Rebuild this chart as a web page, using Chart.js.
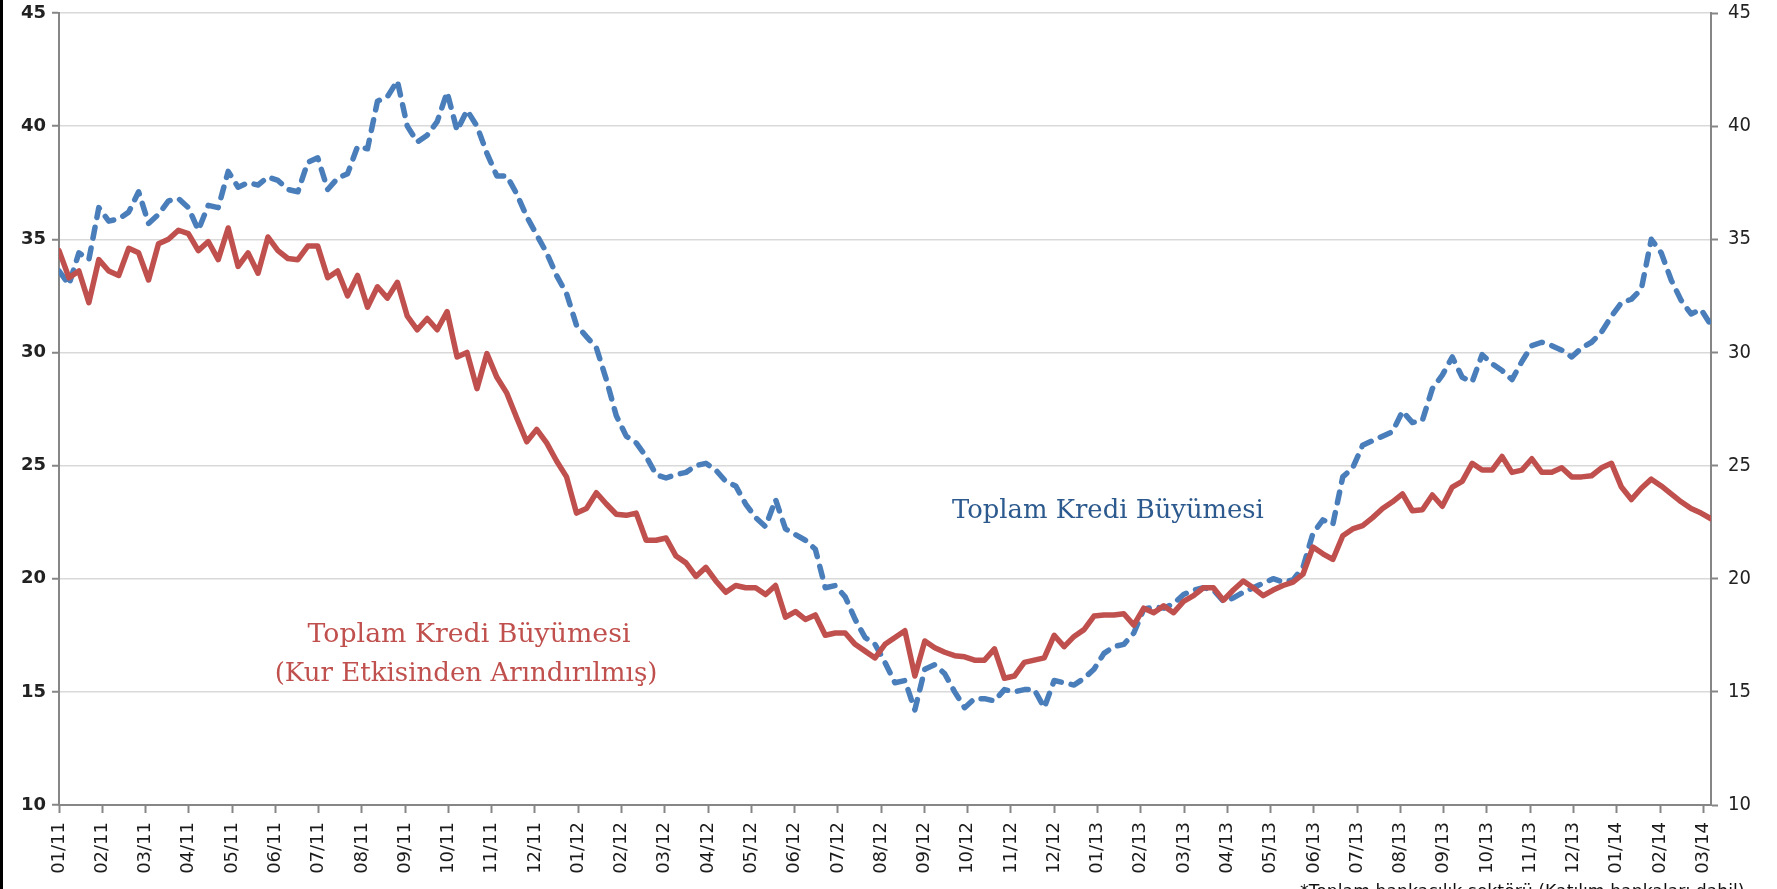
<!DOCTYPE html>
<html lang="tr">
<head>
  <meta charset="UTF-8" />
  <title>Toplam Kredi Büyümesi</title>
  <script src="https://cdn.jsdelivr.net/npm/chart.js"></script>
  <style>
    html, body {
      margin: 0;
      padding: 0;
      background: #fff;
    }

    #wrap {
      position: relative;
      width: 1777px;
      height: 889px;
    }
  </style>
</head>
<body>
  <div id="wrap"><canvas id="kredi"></canvas></div>

  <script>
    // month labels on the x axis (first week of 01/11 .. 03/14)
    const monthLabels = [
      '01/11', '02/11', '03/11', '04/11', '05/11', '06/11', '07/11', '08/11', '09/11', '10/11', '11/11', '12/11',
      '01/12', '02/12', '03/12', '04/12', '05/12', '06/12', '07/12', '08/12', '09/12', '10/12', '11/12', '12/12',
      '01/13', '02/13', '03/13', '04/13', '05/13', '06/13', '07/13', '08/13', '09/13', '10/13', '11/13', '12/13',
      '01/14', '02/14', '03/14'
    ];

    const yTicks = [10, 15, 20, 25, 30, 35, 40, 45];

    // weekly values, % annual growth
    // Toplam Kredi Büyümesi (blue dashed)
    const toplamKredi = [
      33.6, 33.0, 34.4, 34.1, 36.4, 35.8, 35.9, 36.2, 37.1, 35.7, 36.1, 36.7, 36.8, 36.4, 35.4, 36.5,
      36.4, 38.0, 37.3, 37.5, 37.4, 37.75, 37.6, 37.2, 37.1, 38.4, 38.6, 37.2, 37.7, 37.9, 39.1, 39.0,
      41.1, 41.3, 42.0, 40.0, 39.3, 39.6, 40.2, 41.5, 39.8, 40.7, 40.0,
      38.8, 37.8, 37.8, 37.0, 36.0, 35.2, 34.4, 33.4, 32.6, 31.2, 30.7, 30.2, 28.8, 27.2, 26.3, 26.0,
      25.4, 24.6, 24.45, 24.6, 24.7, 25.0, 25.1, 24.8, 24.3, 24.1, 23.3, 22.7, 22.3, 23.5, 22.2, 21.95,
      21.7, 21.3, 19.6, 19.7, 19.2, 18.2, 17.4, 17.1, 16.3, 15.4,
      15.5, 14.2, 16.0, 16.2, 15.8, 15.0, 14.3, 14.7, 14.7, 14.6, 15.1, 15.0, 15.1, 15.1, 14.3, 15.5,
      15.4, 15.3, 15.6, 16.0, 16.7, 17.0, 17.1, 17.6, 18.65, 18.75, 18.7, 18.9, 19.3, 19.5, 19.6, 19.5,
      19.0, 19.15, 19.4, 19.6, 19.8, 20.0, 19.85, 19.95,
      20.5, 22.0, 22.6, 22.4, 24.5, 24.9, 25.9, 26.1, 26.3, 26.5, 27.4, 26.9, 27.0, 28.4, 29.0, 29.8,
      28.9, 28.7, 29.9, 29.5, 29.2, 28.8, 29.6, 30.3, 30.45, 30.3, 30.1, 29.8, 30.2, 30.45, 30.9, 31.6,
      32.2, 32.35, 32.8, 35.0, 34.4, 33.2, 32.3, 31.7, 31.9, 31.2
    ];

    // Toplam Kredi Büyümesi (Kur Etkisinden Arındırılmış) (red solid)
    const kurArindirilmis = [
      34.5, 33.3, 33.6, 32.2, 34.1, 33.6, 33.4, 34.6, 34.4, 33.2, 34.8, 35.0, 35.4, 35.25, 34.5, 34.9,
      34.1, 35.5, 33.8, 34.4, 33.5, 35.1, 34.5, 34.15, 34.1, 34.7, 34.7, 33.3, 33.6, 32.5, 33.4, 32.0,
      32.9, 32.4, 33.1, 31.6, 31.0, 31.5, 31.0, 31.8, 29.8, 30.0, 28.4,
      29.95, 28.9, 28.2, 27.1, 26.05, 26.6, 26.0, 25.2, 24.5, 22.9, 23.1, 23.8, 23.3, 22.85, 22.8, 22.9,
      21.7, 21.7, 21.8, 21.0, 20.7, 20.1, 20.5, 19.9, 19.4, 19.7, 19.6, 19.6, 19.3, 19.7, 18.3, 18.55,
      18.2, 18.4, 17.5, 17.6, 17.6, 17.1, 16.8, 16.5, 17.1, 17.4,
      17.7, 15.7, 17.25, 16.95, 16.75, 16.6, 16.55, 16.4, 16.4, 16.9, 15.6, 15.7, 16.3, 16.4, 16.5, 17.5,
      17.0, 17.45, 17.75, 18.35, 18.4, 18.4, 18.45, 17.95, 18.7, 18.5, 18.8, 18.5, 19.0, 19.25, 19.6, 19.6,
      19.05, 19.5, 19.9, 19.6, 19.25, 19.5, 19.7, 19.85,
      20.2, 21.4, 21.1, 20.85, 21.9, 22.2, 22.35, 22.7, 23.1, 23.4, 23.75, 23.0, 23.05, 23.7, 23.2, 24.05,
      24.3, 25.1, 24.8, 24.8, 25.4, 24.7, 24.8, 25.3, 24.7, 24.7, 24.9, 24.5, 24.5, 24.55, 24.9, 25.1,
      24.05, 23.5, 24.0, 24.4, 24.1, 23.75, 23.4, 23.1, 22.9, 22.65
    ];

    const WEEKS_PER_MONTH = 365.25 / 7 / 12;
    const toXY = arr => arr.map((v, i) => ({ x: i, y: v }));

    const AXIS = '#868686';

    // y scales: fixed width, no extra top/bottom padding for labels
    const fixY = w => s => {
      s.width = w;
      s.paddingTop = 0;
      s.paddingBottom = 0;
    };

    // text on the plot + left frame line + cut footnote
    const etiketler = {
      id: 'etiketler',
      afterDraw(chart) {
        const { ctx } = chart;
        const x = chart.scales.x;
        const y = chart.scales.y;

        function fitText(text, family, cx, baseY, targetW, color, align) {
          ctx.font = '28px ' + family;
          const w = ctx.measureText(text).width;
          const size = 28 * targetW / w;
          ctx.font = size.toFixed(2) + 'px ' + family;
          ctx.fillStyle = color;
          ctx.textAlign = align || 'center';
          ctx.textBaseline = 'alphabetic';
          ctx.fillText(text, cx, baseY);
        }

        ctx.save();
        const serif = '"DejaVu Serif", "Liberation Serif", serif';

        fitText('Toplam Kredi Büyümesi', serif,
          x.getPixelForValue(105.4), y.getPixelForValue(22.69), 312, '#2d5a8e');

        fitText('Toplam Kredi Büyümesi', serif,
          x.getPixelForValue(41.2), y.getPixelForValue(17.2), 323, '#c0504d');
        fitText('(Kur Etkisinden Arındırılmış)', serif,
          x.getPixelForValue(40.9), y.getPixelForValue(15.5), 383, '#c0504d');

        fitText('*Toplam bankacılık sektörü (Katılım bankaları dahil)',
          '"DejaVu Sans", sans-serif', 1300, 897, 445, '#111', 'left');

        ctx.fillStyle = '#000';
        ctx.fillRect(0, 0, 3, chart.height);
        ctx.restore();
      }
    };

    const ctx = document.getElementById('kredi').getContext('2d');
    const chart = new Chart(ctx, {
      type: 'line',
      data: {
        datasets: [
          {
            label: 'Toplam Kredi Büyümesi (Kur Etkisinden Arındırılmış)',
            data: toXY(kurArindirilmis),
            borderColor: '#c0504d',
            borderWidth: 5.5,
            borderJoinStyle: 'round',
            borderCapStyle: 'round',
            pointRadius: 0,
            tension: 0,
            yAxisID: 'y'
          },
          {
            label: 'Toplam Kredi Büyümesi',
            data: toXY(toplamKredi),
            borderColor: '#4a7ebb',
            borderWidth: 5.5,
            borderDash: [11, 10],
            borderJoinStyle: 'round',
            borderCapStyle: 'round',
            pointRadius: 0,
            tension: 0,
            yAxisID: 'y'
          }
        ]
      },
      options: {
        responsive: true,
        maintainAspectRatio: false,
        animation: false,
        devicePixelRatio: 1,
        layout: { padding: { top: 13, left: 0, right: 0, bottom: 0 } },
        plugins: {
          legend: { display: false },
          tooltip: { enabled: false }
        },
        scales: {
          x: {
            type: 'linear',
            min: 0,
            max: kurArindirilmis.length - 1,
            afterBuildTicks: s => {
              s.ticks = monthLabels.map((_, k) => ({ value: k * WEEKS_PER_MONTH }));
            },
            afterFit: s => { s.height = 84; },
            grid: {
              drawOnChartArea: false,
              drawTicks: true,
              tickLength: 8,
              tickColor: AXIS,
              tickWidth: 2
            },
            border: { color: AXIS, width: 2 },
            ticks: {
              autoSkip: false,
              maxRotation: 90,
              minRotation: 90,
              padding: 9,
              color: '#1a1a1a',
              font: { family: '"DejaVu Sans", sans-serif', size: 18 },
              callback: (v, i) => monthLabels[i]
            }
          },
          y: {
            position: 'left',
            min: 10,
            max: 45,
            afterBuildTicks: s => { s.ticks = yTicks.map(v => ({ value: v })); },
            afterFit: fixY(59),
            grid: {
              color: '#d9d9d9',
              lineWidth: 1.5,
              tickLength: 7,
              tickColor: AXIS,
              tickWidth: 2
            },
            border: { color: AXIS, width: 2 },
            ticks: {
              padding: 6,
              color: '#222',
              font: { family: '"DejaVu Sans", sans-serif', size: 18, weight: 'bold' }
            }
          },
          y2: {
            position: 'right',
            min: 10,
            max: 45,
            afterBuildTicks: s => { s.ticks = yTicks.map(v => ({ value: v })); },
            afterFit: fixY(66),
            grid: {
              drawOnChartArea: false,
              tickLength: 7,
              tickColor: AXIS,
              tickWidth: 2
            },
            border: { color: AXIS, width: 2 },
            ticks: {
              padding: 10,
              color: '#222',
              font: { family: '"Liberation Sans Narrow", "DejaVu Sans Condensed", sans-serif', size: 20 }
            }
          }
        }
      },
      plugins: [etiketler]
    });
  </script>
</body>
</html>
